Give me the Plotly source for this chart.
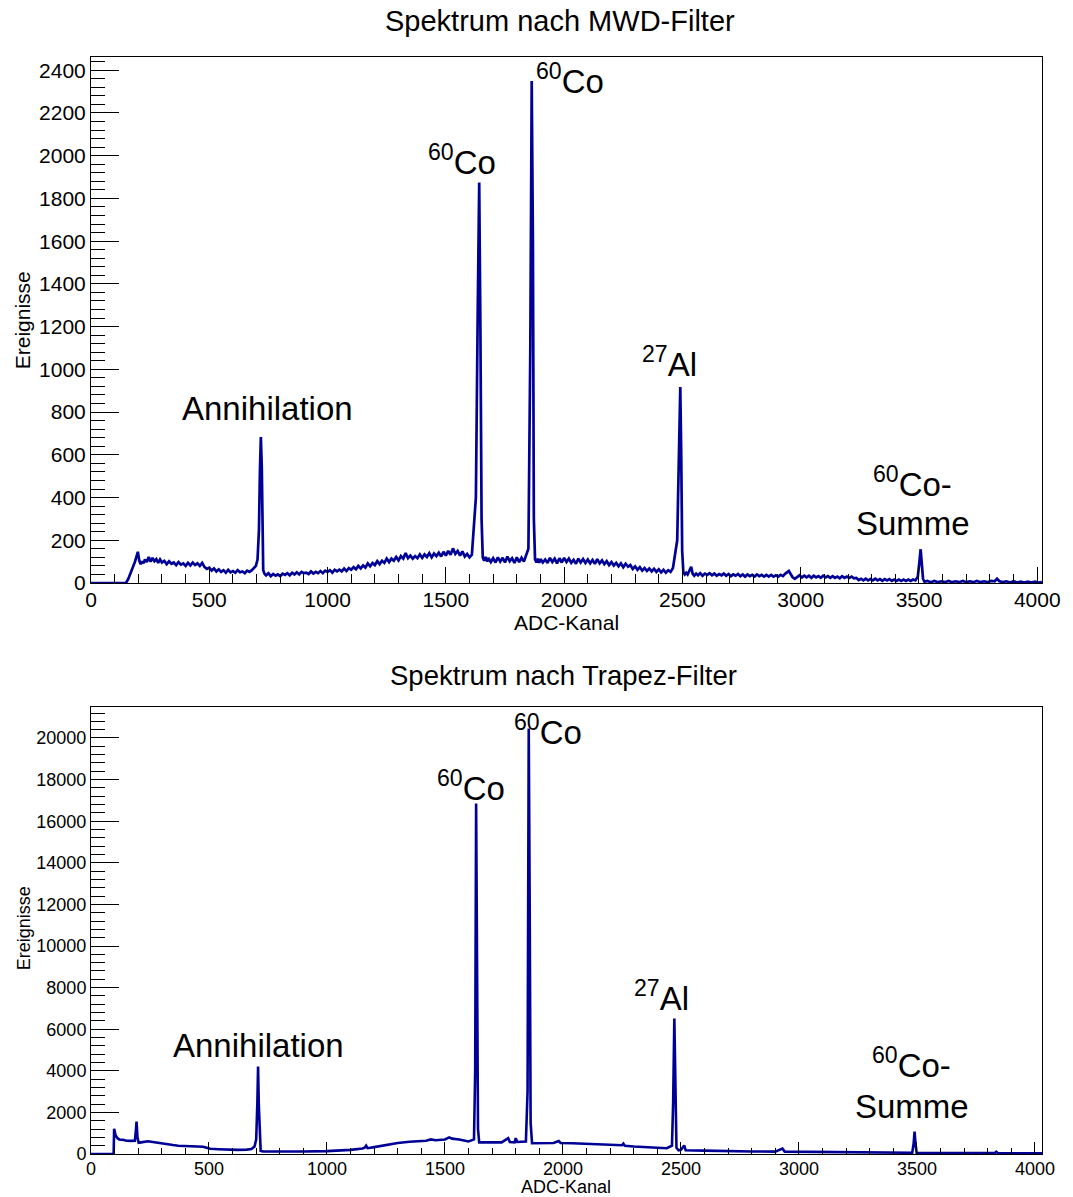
import plotly.graph_objects as go

# ---------------- data ----------------
mwd_channel = [
    0, 148, 158, 172, 186, 198, 204, 210, 216, 222,
    228, 236, 244, 252, 260, 268, 276, 284, 292, 300,
    310, 320, 330, 340, 350, 360, 370, 380, 390, 400,
    410, 420, 430, 440, 450, 460, 470, 480, 490, 500,
    510, 520, 530, 540, 550, 560, 570, 580, 590, 600,
    610, 620, 630, 640, 650, 660, 670, 680, 697, 704,
    710, 714, 718, 722, 725, 728, 734, 740, 750, 760,
    770, 780, 790, 800, 810, 820, 830, 840, 850, 860,
    870, 880, 890, 900, 910, 920, 930, 940, 950, 960,
    970, 980, 990, 1000, 1010, 1020, 1030, 1040, 1050, 1060,
    1070, 1080, 1090, 1100, 1110, 1120, 1130, 1140, 1150, 1160,
    1170, 1180, 1190, 1200, 1210, 1220, 1230, 1240, 1250, 1260,
    1270, 1280, 1290, 1300, 1310, 1320, 1330, 1340, 1350, 1360,
    1370, 1380, 1390, 1400, 1410, 1420, 1430, 1440, 1450, 1460,
    1470, 1480, 1490, 1500, 1510, 1520, 1530, 1540, 1550, 1560,
    1570, 1580, 1590, 1600, 1610, 1627, 1635, 1641, 1646, 1651,
    1656, 1662, 1668, 1675, 1680, 1690, 1700, 1710, 1720, 1730,
    1740, 1750, 1760, 1770, 1780, 1790, 1800, 1810, 1820, 1830,
    1849, 1857, 1863, 1868, 1872, 1877, 1883, 1889, 1895, 1900,
    1910, 1920, 1930, 1940, 1950, 1960, 1970, 1980, 1990, 2000,
    2010, 2020, 2030, 2040, 2050, 2060, 2070, 2080, 2090, 2100,
    2110, 2120, 2130, 2140, 2150, 2160, 2170, 2180, 2190, 2200,
    2210, 2220, 2230, 2240, 2250, 2260, 2270, 2280, 2290, 2300,
    2310, 2320, 2330, 2340, 2350, 2360, 2370, 2380, 2390, 2400,
    2410, 2420, 2430, 2440, 2450, 2460, 2478, 2485, 2491, 2495,
    2499, 2504, 2510, 2516, 2522, 2537, 2543, 2550, 2558, 2566,
    2575, 2585, 2595, 2605, 2615, 2625, 2635, 2645, 2655, 2665,
    2675, 2685, 2695, 2705, 2715, 2725, 2735, 2745, 2755, 2765,
    2775, 2785, 2795, 2805, 2815, 2825, 2835, 2845, 2855, 2865,
    2875, 2885, 2895, 2905, 2915, 2925, 2935, 2950, 2957, 2965,
    2975, 2985, 2995, 3005, 3015, 3025, 3035, 3045, 3055, 3065,
    3075, 3085, 3095, 3105, 3115, 3125, 3135, 3145, 3155, 3165,
    3175, 3185, 3195, 3205, 3215, 3225, 3235, 3245, 3255, 3265,
    3275, 3285, 3295, 3305, 3315, 3325, 3335, 3345, 3355, 3365,
    3375, 3385, 3395, 3405, 3415, 3425, 3435, 3445, 3455, 3465,
    3475, 3485, 3495, 3501, 3507, 3512, 3517, 3523, 3535, 3550,
    3565, 3580, 3595, 3610, 3625, 3640, 3655, 3670, 3685, 3700,
    3715, 3730, 3745, 3760, 3775, 3790, 3805, 3820, 3830, 3840,
    3855, 3870, 3885, 3900, 3915, 3930, 3945, 3960, 3975, 3990,
    4005, 4020,
]
mwd_counts = [
    0, 0, 20, 60, 100, 146, 105, 88, 102, 92,
    110, 98, 122, 100, 118, 102, 112, 94, 110, 96,
    104, 88, 102, 90, 96, 84, 98, 86, 92, 80,
    94, 82, 96, 84, 92, 80, 94, 74, 66, 72,
    58, 68, 54, 64, 52, 60, 48, 62, 50, 56,
    48, 60, 50, 54, 46, 58, 52, 60, 80, 110,
    250, 520, 683, 540, 200, 60, 42, 36, 46, 32,
    42, 34, 40, 32, 44, 38, 46, 36, 48, 40,
    50, 40, 52, 46, 48, 42, 54, 44, 52, 46,
    56, 46, 58, 52, 60, 48, 62, 54, 62, 54,
    68, 56, 70, 62, 74, 64, 80, 68, 82, 72,
    92, 78, 94, 84, 102, 88, 104, 94, 114, 98,
    114, 104, 122, 106, 126, 114, 140, 116, 128, 114,
    126, 116, 134, 118, 134, 122, 140, 120, 138, 126,
    142, 124, 146, 128, 150, 132, 162, 136, 150, 128,
    148, 124, 136, 120, 132, 400, 1300, 1875, 1200, 300,
    120, 104, 122, 100, 118, 98, 116, 96, 120, 100,
    118, 96, 124, 102, 116, 94, 120, 98, 118, 100,
    160, 1100, 2350, 1600, 300, 110, 96, 114, 94, 112,
    96, 110, 94, 118, 98, 114, 92, 116, 96, 118,
    98, 114, 94, 108, 90, 114, 96, 112, 94, 110,
    92, 108, 90, 112, 92, 106, 88, 102, 84, 98,
    82, 94, 78, 92, 74, 90, 76, 84, 66, 78,
    62, 74, 58, 70, 56, 68, 54, 66, 52, 64,
    50, 62, 48, 60, 52, 70, 200, 700, 917, 600,
    150, 50, 40, 48, 40, 76, 44, 34, 44, 36,
    46, 34, 44, 38, 46, 36, 44, 34, 42, 36,
    44, 34, 42, 32, 40, 34, 42, 32, 40, 30,
    40, 32, 38, 30, 40, 32, 38, 30, 38, 30,
    38, 30, 36, 30, 38, 32, 44, 56, 40, 28,
    20, 30, 36, 26, 34, 26, 34, 24, 34, 26,
    32, 24, 34, 26, 32, 24, 32, 24, 30, 22,
    32, 24, 30, 24, 30, 22, 24, 14, 20, 12,
    20, 12, 18, 12, 20, 12, 18, 10, 18, 12,
    18, 10, 16, 10, 16, 10, 16, 10, 16, 10,
    16, 12, 30, 90, 158, 90, 20, 6, 10, 4,
    10, 4, 8, 4, 10, 4, 8, 4, 10, 4,
    8, 4, 10, 4, 8, 4, 10, 8, 20, 8,
    4, 8, 2, 8, 2, 6, 2, 6, 2, 6,
    2, 4,
]

trap_channel = [
    0, 96, 98, 104, 112, 120, 136, 150, 170, 186,
    190, 193, 197, 202, 212, 225, 241, 255, 270, 290,
    310, 330, 347, 370, 400, 430, 459, 475, 490, 505,
    540, 580, 620, 660, 680, 693, 700, 705, 708, 711,
    715, 719, 730, 800, 900, 1000, 1050, 1100, 1150, 1160,
    1166, 1172, 1200, 1250, 1300, 1350, 1397, 1420, 1440, 1460,
    1500, 1518, 1530, 1560, 1600, 1623, 1628, 1632, 1636, 1640,
    1645, 1680, 1740, 1768, 1775, 1795, 1800, 1806, 1843, 1850,
    1855, 1859, 1863, 1869, 1900, 1960, 1982, 1990, 2040, 2100,
    2150, 2200, 2250, 2256, 2262, 2300, 2350, 2400, 2440, 2462,
    2467, 2472, 2476, 2481, 2490, 2500, 2514, 2520, 2600, 2700,
    2800, 2900, 2930, 2940, 3000, 3100, 3158, 3170, 3300, 3480,
    3486, 3490, 3494, 3499, 3700, 3830, 3836, 3844, 4030,
]
trap_counts = [
    0, 0, 1210, 900, 760, 700, 680, 640, 630, 640,
    1100, 1560, 800, 540, 560, 580, 610, 590, 560, 520,
    490, 470, 430, 400, 380, 370, 360, 350, 300, 250,
    230, 210, 200, 210, 240, 360, 700, 2500, 4200, 2400,
    600, 150, 120, 110, 120, 140, 160, 200, 260, 300,
    400, 280, 330, 430, 530, 590, 620, 640, 700, 660,
    700, 800, 740, 700, 600, 700, 4000, 16850, 9000, 1200,
    560, 550, 560, 760, 580, 560, 760, 580, 600, 3000,
    20460, 12000, 1500, 520, 520, 530, 620, 530, 520, 500,
    490, 450, 420, 500, 400, 360, 320, 300, 280, 400,
    2500, 6510, 3000, 300, 180, 200, 410, 180, 160, 130,
    120, 115, 260, 115, 110, 100, 90, 70, 60, 60,
    500, 1080, 500, 40, 40, 40, 110, 40, 30,
]

# ---------------- layout helpers ----------------
W, H = 1073, 1197
L, R, T, B = 91, 1046, 57, 1154
FONT = "Liberation Sans, Arial, Helvetica, sans-serif"
LINE = "rgb(0,0,150)"


def px_x(x):
    return (x - L) / (R - L)


def px_y(y):
    return (B - y) / (B - T)


top_dom = [px_y(583), 1.0]
bot_dom = [0.0, px_y(707)]

fig = go.Figure()
fig.add_trace(go.Scatter(x=mwd_channel, y=mwd_counts, mode="lines",
                         line=dict(color=LINE, width=2.7), xaxis="x", yaxis="y",
                         showlegend=False, hoverinfo="skip"))
fig.add_trace(go.Scatter(x=trap_channel, y=trap_counts, mode="lines",
                         line=dict(color=LINE, width=2.6), xaxis="x2", yaxis="y2",
                         showlegend=False, hoverinfo="skip"))


def xax(dom_anchor, rng, fs, tl, mtl):
    return dict(range=rng, anchor=dom_anchor, domain=[0, 1],
                tickmode="linear", tick0=0, dtick=500, ticks="inside", ticklen=tl,
                tickwidth=1, tickcolor="black", ticklabelstandoff=-2,
                minor=dict(dtick=100, ticks="inside", ticklen=mtl, tickcolor="black", tickwidth=1),
                showline=True, mirror=True, linecolor="black", linewidth=1,
                showgrid=False, zeroline=False, tickformat="d",
                tickfont=dict(family=FONT, size=fs, color="black"))


def yax(dom, anchor, rng, dt, mdt, fs):
    return dict(range=rng, domain=dom, anchor=anchor,
                tickmode="linear", tick0=0, dtick=dt, ticks="inside", ticklen=28,
                tickwidth=1, tickcolor="black",
                minor=dict(dtick=mdt, ticks="inside", ticklen=14, tickcolor="black", tickwidth=1),
                showline=True, mirror=True, linecolor="black", linewidth=1,
                showgrid=False, zeroline=False, tickformat="d",
                tickfont=dict(family=FONT, size=fs, color="black"))


fig.update_layout(
    width=W, height=H,
    margin=dict(l=L, r=W - R, t=T, b=H - B, pad=0),
    paper_bgcolor="white", plot_bgcolor="white",
    xaxis=xax("y", [0, 4020], 21, 16, 9),
    yaxis=yax(top_dom, "x", [0, 2462], 200, 40, 21),
    xaxis2=xax("y2", [0, 4030], 18, 12, 6),
    yaxis2=yax(bot_dom, "x2", [0, 21490], 2000, 400, 18),
    showlegend=False,
)


def ann(text, x, y, size, angle=0):
    fig.add_annotation(text=text, x=px_x(x), y=px_y(y), xref="paper", yref="paper",
                       xanchor="center", yanchor="middle", showarrow=False,
                       textangle=angle, font=dict(family=FONT, size=size, color="black"))


# titles
ann("Spektrum nach MWD-Filter", 562, 21, 29)
ann("Spektrum nach Trapez-Filter", 565, 676, 27.5)
# axis titles
ann("ADC-Kanal", 568, 622, 21)
ann("ADC-Kanal", 568, 1187, 18)
ann("Ereignisse", 22, 320, 21, -90)
ann("Ereignisse", 24, 928, 18, -90)

# peak labels (top)
ann("Annihilation", 268, 408, 33)
ann("<sup>60</sup>Co", 464, 160, 33)
ann("<sup>60</sup>Co", 572, 79, 33)
ann("<sup>27</sup>Al", 672, 362, 33)
ann("<sup>60</sup>Co-", 916, 482, 33)
ann("Summe", 916, 523, 33)
# peak labels (bottom)
ann("Annihilation", 259, 1045, 33)
ann("<sup>60</sup>Co", 473, 786, 33)
ann("<sup>60</sup>Co", 550, 730, 33)
ann("<sup>27</sup>Al", 664, 996, 33)
ann("<sup>60</sup>Co-", 915, 1063, 33)
ann("Summe", 915, 1106, 33)

fig.write_html("out.html")
